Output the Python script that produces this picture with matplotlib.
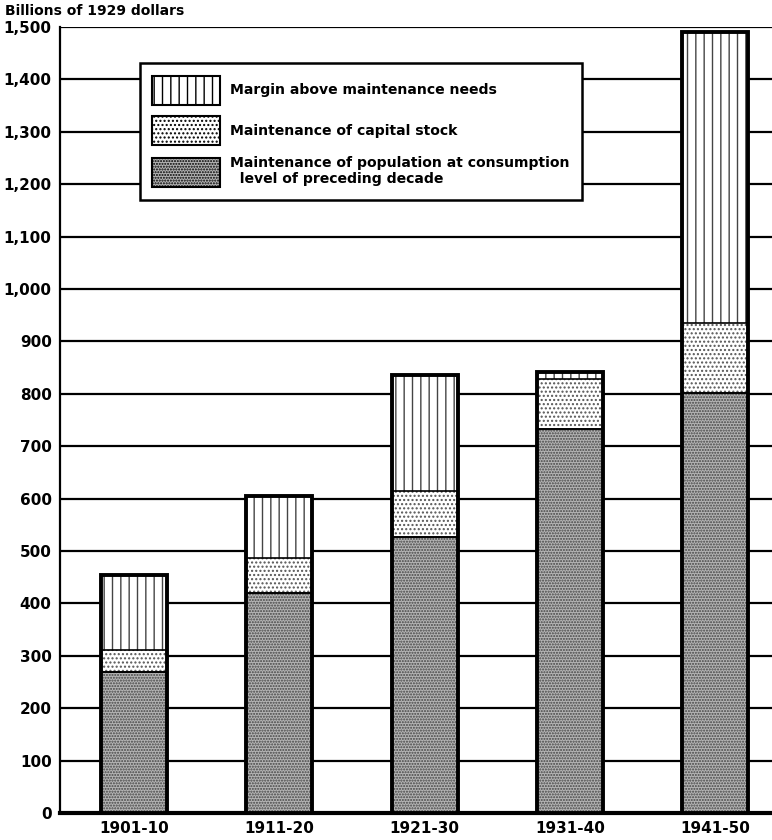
import matplotlib
matplotlib.use("Agg")
import matplotlib.pyplot as plt
import numpy as np

decades = ["1901-10", "1911-20", "1921-30", "1931-40", "1941-50"]
population = [270, 420, 527, 733, 801]
capital = [41, 67, 87, 95, 134]
margin = [144, 118, 221, 14, 555]

plt.rcParams['font.family'] = ['DejaVu Sans']
plt.rcParams['font.weight'] = 'bold'
plt.rcParams['hatch.linewidth'] = 1.0

fig = plt.figure(figsize=(7.72, 8.4), dpi=100)
ax = fig.add_axes([0.0777, 0.032, 0.9223, 0.936])

x = np.arange(len(decades))
w = 0.455
pop = np.array(population)
cap = np.array(capital)
mar = np.array(margin)

b1 = ax.bar(x, pop, w, color='#b4b4b4', edgecolor='#444444', hatch='......', linewidth=0, zorder=3,
            label='Maintenance of population at consumption\n  level of preceding decade')
b2 = ax.bar(x, cap, w, bottom=pop, color='white', edgecolor='#555555', hatch='....', linewidth=0, zorder=3,
            label='Maintenance of capital stock')
b3 = ax.bar(x, mar, w, bottom=pop + cap, color='white', edgecolor='#444444', hatch='||', linewidth=0, zorder=3,
            label='Margin above maintenance needs')

# segment dividers and thick outline
ax.bar(x, pop, w, fill=False, edgecolor='black', linewidth=1.2, zorder=4)
ax.bar(x, cap, w, bottom=pop, fill=False, edgecolor='black', linewidth=1.2, zorder=4)
ax.bar(x, pop + cap + mar, w, fill=False, edgecolor='black', linewidth=2.8, zorder=5)

ax.set_xlim(-0.51, 4.39)
ax.set_ylim(0, 1500)
ax.set_yticks(range(0, 1501, 100))
ax.set_yticklabels([f"{v:,}" for v in range(0, 1501, 100)])
ax.set_xticks(x)
ax.set_xticklabels(decades)
ax.tick_params(length=0, labelsize=11, pad=6)
ax.yaxis.grid(True, color='black', linewidth=1.6, zorder=1)
ax.set_axisbelow(True)

for s in ['top', 'right']:
    ax.spines[s].set_visible(False)
ax.spines['left'].set_linewidth(1.6)
ax.spines['bottom'].set_linewidth(3)

fig.text(0.006, 0.978, "Billions of 1929 dollars", fontsize=10, fontweight='bold', va='bottom')

leg = ax.legend(handles=[b3, b2, b1], loc='upper left', bbox_to_anchor=(0.112, 0.954),
                borderaxespad=0, fontsize=10.1, handlelength=4.8, handleheight=2.8,
                handletextpad=0.7, labelspacing=0.8, borderpad=0.9, fancybox=False,
                framealpha=1, edgecolor='black')
leg.get_frame().set_linewidth(1.8)
for h in leg.legend_handles:
    h.set_linewidth(1.5)
    h.set_edgecolor('black')

fig.savefig("out.png", dpi=100)
